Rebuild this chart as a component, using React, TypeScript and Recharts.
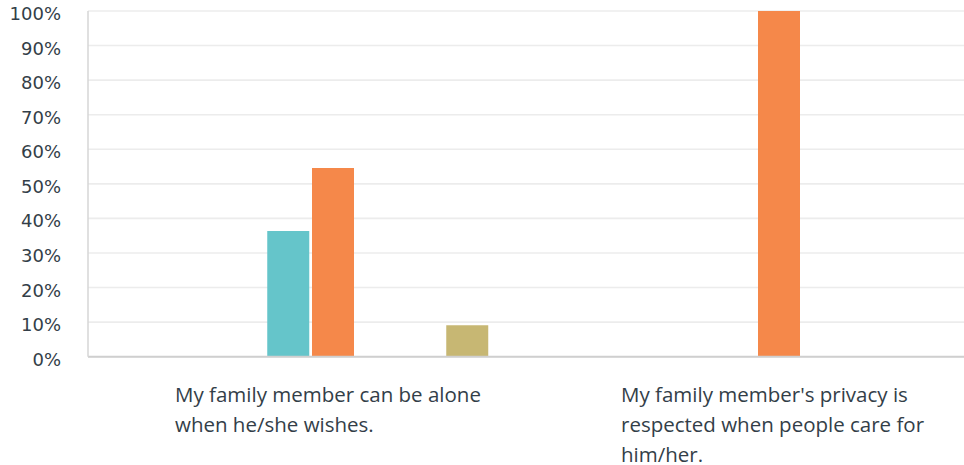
import React from 'react';
import { BarChart, Bar, XAxis, YAxis, CartesianGrid } from 'recharts';

const categories = [
  'My family member can be alone when he/she wishes.',
  "My family member's privacy is respected when people care for him/her.",
];
const seriesNames = ['Option 1', 'Option 2', 'Option 3', 'Option 4', 'Option 5', 'Option 6', 'Option 7', 'Option 8'];
const option1 = [0, 0];
const option2 = [0, 0];
const option3 = [0, 0];
const option4 = [36.36, 0];
const option5 = [54.55, 100];
const option6 = [0, 0];
const option7 = [0, 0];
const option8 = [9.09, 0];
const seriesValues = [option1, option2, option3, option4, option5, option6, option7, option8];
const seriesColors = ['#A9A9A9', '#7AA0C4', '#8CC084', '#65C5CA', '#F5884A', '#B58DB6', '#E3D26F', '#C7B773'];
const yTicks = [0, 10, 20, 30, 40, 50, 60, 70, 80, 90, 100];

const data = categories.map((c, i) => {
  const row: Record<string, any> = { category: c };
  seriesNames.forEach((s, j) => {
    row[s] = seriesValues[j][i];
  });
  return row;
});

const TEXT = '#333E48';

function wrap(text: string, maxChars: number): string[] {
  const words = text.split(' ');
  const lines: string[] = [];
  let cur = '';
  for (const w of words) {
    const next = cur ? cur + ' ' + w : w;
    if (next.length > maxChars && cur) {
      lines.push(cur);
      cur = w;
    } else {
      cur = next;
    }
  }
  if (cur) lines.push(cur);
  return lines;
}

const XTick = (props: any) => {
  const { x, payload } = props;
  const lines = wrap(String(payload.value), 30);
  return (
    <text x={x - 136} y={402} fill={TEXT} fontSize={20.5} fontFamily="'Open Sans', sans-serif" textAnchor="start">
      {lines.map((l, i) => (
        <tspan key={i} x={x - 136} y={402 + i * 30}>
          {l}
        </tspan>
      ))}
    </text>
  );
};

const YTick = (props: any) => {
  const { y, payload } = props;
  return (
    <text x={61} y={y + 9} fill={TEXT} fontSize={18} fontFamily="'DejaVu Sans', sans-serif" textAnchor="end">
      {payload.value + '%'}
    </text>
  );
};

export default function App() {
  return (
    <div style={{ position: 'fixed', left: 0, top: 0, width: 964, height: 465, overflow: 'hidden', background: '#fff' }}>
      <BarChart
        width={990}
        height={465}
        data={data}
        margin={{ top: 11, right: 10, bottom: 0, left: 0 }}
        barSize={42}
        barGap={2.75}
      >
        <CartesianGrid horizontal vertical={false} stroke="#ECECEC" strokeWidth={1.6} />
        <XAxis
          dataKey="category"
          height={108.3}
          interval={0}
          tickLine={false}
          axisLine={{ stroke: '#CFCFCF', strokeWidth: 2 }}
          tick={<XTick />}
        />
        <YAxis
          width={88}
          domain={[0, 100]}
          ticks={yTicks}
          interval={0}
          tickLine={false}
          axisLine={{ stroke: '#D6D6D6', strokeWidth: 1.5 }}
          tick={<YTick />}
        />
        {seriesNames.map((s, j) => (
          <Bar key={s} dataKey={s} fill={seriesColors[j]} isAnimationActive={false} />
        ))}
      </BarChart>
    </div>
  );
}
